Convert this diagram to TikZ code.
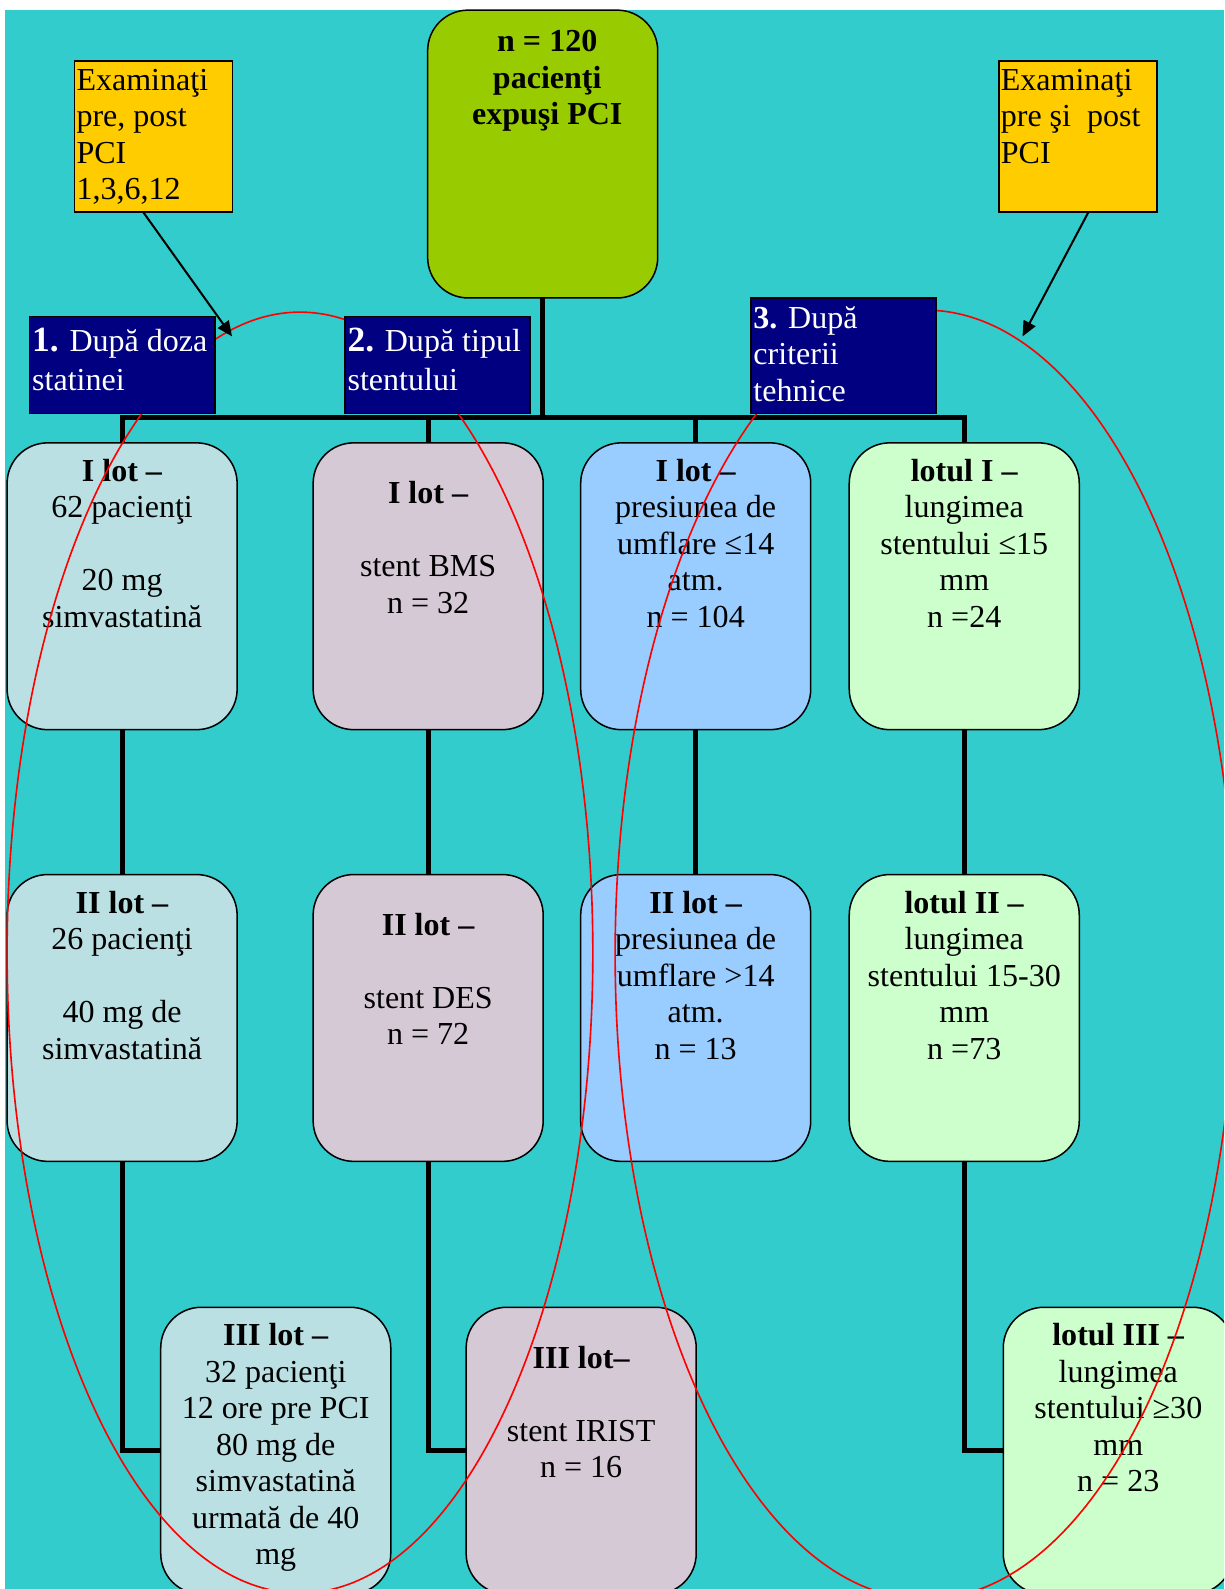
\documentclass[tikz,border=0pt]{standalone}
\usepackage{fontspec}
\setmainfont{Liberation Serif}
\usetikzlibrary{arrows.meta,calc}
\definecolor{bgteal}{HTML}{33CCCC}
\definecolor{topgreen}{HTML}{99CC00}
\definecolor{noteyellow}{HTML}{FFCC00}
\definecolor{navyblue}{HTML}{000080}
\definecolor{colA}{HTML}{BBE0E3}
\definecolor{colB}{HTML}{D6C9D6}
\definecolor{colC}{HTML}{99CCFF}
\definecolor{colD}{HTML}{CCFFCC}
\begin{document}
\begin{tikzpicture}[x=0.5pt,y=-0.5pt,
  every node/.style={inner sep=0pt,outer sep=0pt},
  lotbox/.style={draw=black,line width=0.75pt,rounded corners=20pt,
    minimum width=113.5pt,minimum height=141.5pt,anchor=north west},
  catbox/.style={draw=black,line width=0.75pt,fill=navyblue,anchor=north west},
  notebox/.style={draw=black,line width=0.75pt,fill=noteyellow,anchor=north west,
    minimum width=78pt,minimum height=74.5pt},
  lottext/.style={anchor=north,align=center,font=\fontsize{15.8}{18}\selectfont},
  cattext/.style={anchor=north west,align=left,text=white,font=\fontsize{15.8}{18}\selectfont},
  notetext/.style={anchor=north west,align=left,font=\fontsize{15.8}{18}\selectfont},
  conn/.style={line width=2.5pt,draw=black},
  ring/.style={draw=red,line width=0.8pt},
  pointer/.style={line width=1pt,-{Triangle[length=7.5pt,width=6.5pt]}}
]
\useasboundingbox (0,0) rectangle (1208,1568);
\clip (0,0) rectangle (1208,1568);
\fill[white] (0,0) rectangle (1208,1568);
\fill[bgteal] (5,10) rectangle (1208,1568);

% top box
\node[lotbox,fill=topgreen,minimum height=142pt] (top) at (422,10) {};
\node[lottext,font=\fontsize{15.8}{18}\selectfont\bfseries] (toptxt) at ($(top.north)+(4.5,15.8)$)
  {\strut n = 120\\ pacienţi\\ expuşi PCI};

% row 1
\node[lotbox,fill=colA] (a1) at (7,437) {};
\node[lotbox,fill=colB] (a2) at (309,437) {};
\node[lotbox,fill=colC] (a3) at (573,437) {};
\node[lotbox,fill=colD] (a4) at (838,437) {};
% row 2
\node[lotbox,fill=colA] (b1) at (7,863) {};
\node[lotbox,fill=colB] (b2) at (309,863) {};
\node[lotbox,fill=colC] (b3) at (573,863) {};
\node[lotbox,fill=colD] (b4) at (838,863) {};
% row 3
\node[lotbox,fill=colA] (c1) at (158.6,1290) {};
\node[lotbox,fill=colB] (c2) at (460,1290) {};
\node[lotbox,fill=colD] (c4) at (990,1290) {};

% texts
\node[lottext] (ta1) at ($(a1.north)+(0,12.8)$)
  {\strut\textbf{I lot –}\\ 62 pacienţi\\[18pt] 20 mg\\ simvastatină};
\node[lottext] (ta2) at ($(a2.north)+(0,34.8)$)
  {\strut\textbf{I lot –}\\[18pt] stent BMS\\ n = 32};
\node[lottext] (ta3) at ($(a3.north)+(0,12.8)$)
  {\strut\textbf{I lot –}\\ presiunea de\\ umflare ≤14\\ atm.\\ n = 104};
\node[lottext] (ta4) at ($(a4.north)+(0,12.8)$)
  {\strut\textbf{lotul I –}\\ lungimea\\ stentului ≤15\\ mm\\ n =24};
\node[lottext] (tb1) at ($(b1.north)+(0,12.8)$)
  {\strut\textbf{II lot –}\\ 26 pacienţi\\[18pt] 40 mg de\\ simvastatină};
\node[lottext] (tb2) at ($(b2.north)+(0,34.8)$)
  {\strut\textbf{II lot –}\\[18pt] stent DES\\ n = 72};
\node[lottext] (tb3) at ($(b3.north)+(0,12.8)$)
  {\strut\textbf{II lot –}\\ presiunea de\\ umflare >14\\ atm.\\ n = 13};
\node[lottext] (tb4) at ($(b4.north)+(0,12.8)$)
  {\strut\textbf{lotul II –}\\ lungimea\\ stentului 15-30\\ mm\\ n =73};
\node[lottext] (tc1) at ($(c1.north)+(0,12.8)$)
  {\strut\textbf{III lot –}\\ 32 pacienţi\\ 12 ore pre PCI\\ 80 mg de\\ simvastatină\\ urmată de 40\\ mg};
\node[lottext] (tc2) at ($(c2.north)+(0,34.8)$)
  {\strut\textbf{III lot–}\\[18pt] stent IRIST\\ n = 16};
\node[lottext] (tc4) at ($(c4.north)+(0,12.8)$)
  {\strut\textbf{lotul III –}\\ lungimea\\ stentului ≥30\\ mm\\ n = 23};

% connectors
\coordinate (bar) at (536,412);
\draw[conn] (top.south) -- (top.south |- bar);
\draw[conn] (a1.north) -- (a1.north |- bar) -- (a4.north |- bar) -- (a4.north);
\draw[conn] (a2.north |- bar) -- (a2.north);
\draw[conn] (a3.north |- bar) -- (a3.north);
\draw[conn] (a1.south) -- (b1.north);
\draw[conn] (a2.south) -- (b2.north);
\draw[conn] (a3.south) -- (b3.north);
\draw[conn] (a4.south) -- (b4.north);
\draw[conn] (b1.south) |- (c1.west);
\draw[conn] (b2.south) |- (c2.west);
\draw[conn] (b4.south) |- (c4.west);

% red rings
\draw[ring] (296,940) ellipse [x radius=144.5pt, y radius=316pt];
\draw[ring] (913,942) ellipse [x radius=153pt, y radius=318pt];

% category boxes
\node[catbox,minimum width=91.5pt,minimum height=47.75pt] (nv1) at (29,312.5) {};
\node[catbox,minimum width=91.25pt,minimum height=47.75pt] (nv2) at (340.5,312.5) {};
\node[catbox,minimum width=91.25pt,minimum height=57pt] (nv3) at (741,294) {};
\node[cattext] (tn1) at ($(nv1.north west)+(2.8,9.3)$)
  {\strut{\fontsize{17.5}{18}\selectfont\bfseries 1.} După doza\\[1pt] statinei};
\node[cattext] (tn2) at ($(nv2.north west)+(2.5,9.3)$)
  {\strut{\fontsize{17.5}{18}\selectfont\bfseries 2.} După tipul\\[1pt] stentului};
\node[cattext] (tn3) at ($(nv3.north west)+(2.5,4.8)$)
  {\strut\textbf{3.} După\\ criterii\\ tehnice};

% note boxes
\node[notebox] (nl) at (73.6,60) {};
\node[notebox] (nr) at (985.7,60) {};
\node[notetext] (tnl) at ($(nl.north west)+(1.9,3.8)$)
  {\strut Examinaţi\\ pre, post\\ PCI\\ 1,3,6,12};
\node[notetext] (tnr) at ($(nr.north west)+(1.9,3.8)$)
  {\strut Examinaţi\\ pre şi\ \ post\\ PCI};

% arrows
\coordinate (tipL) at (229,332);
\coordinate (tipR) at (1009,332);
\draw[pointer] ($(nl.south west)+(67.5,0)$) -- (tipL);
\draw[pointer] ($(nr.south west)+(88.5,0)$) -- (tipR);
\end{tikzpicture}
\end{document}
